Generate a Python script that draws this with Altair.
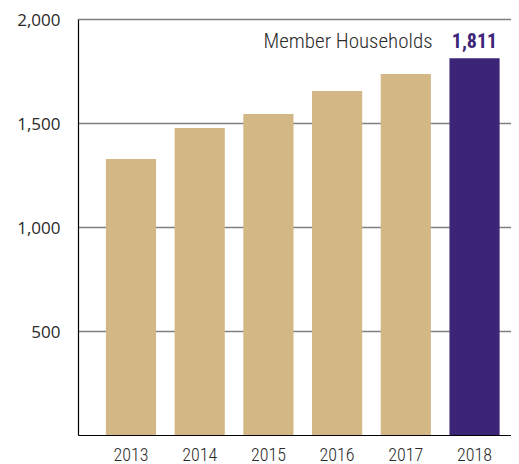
import altair as alt
import pandas as pd

years = ["2013", "2014", "2015", "2016", "2017", "2018"]
households = [1327, 1476, 1543, 1654, 1736, 1811]
bar_colors = ["#D3B784", "#D3B784", "#D3B784", "#D3B784", "#D3B784", "#3C2477"]
y_ticks = [500, 1000, 1500, 2000]
annotation_label = "Member Households"
highlight_label = "1,811"

df = pd.DataFrame({"year": years, "value": households, "color": bar_colors})
last = pd.DataFrame({"year": [years[-1]], "value": [households[-1]],
                     "label": [highlight_label], "note": [annotation_label]})

NARROW = "Liberation Sans Narrow, Arial Narrow, Roboto Condensed, Liberation Sans"

x_enc = alt.X("year:N", sort=years,
              scale=alt.Scale(paddingInner=0.27, paddingOuter=0.286, align=0.71),
              axis=alt.Axis(title=None, labelAngle=0, ticks=False, domain=True,
                            domainColor="#000000", domainWidth=1.2,
                            labelFont=NARROW, labelFontSize=18, labelFontWeight=300,
                            labelColor="#2a2a2a", labelPadding=11))
y_enc = alt.Y("value:Q", scale=alt.Scale(domain=[0, 2000], nice=False),
              axis=alt.Axis(title=None, values=y_ticks, format=",.0f", ticks=False,
                            domain=True, domainColor="#000000", domainWidth=1.2,
                            grid=True, gridColor="#808080", gridWidth=1.3,
                            labelFont="Open Sans", labelFontSize=17,
                            labelOffset=1.5,
                            labelColor="#2a2a2a", labelPadding=18))

bars = alt.Chart(df).mark_bar().encode(
    x=x_enc, y=y_enc,
    color=alt.Color("color:N", scale=None),
)

value_text = alt.Chart(last).mark_text(
    baseline="bottom", align="center", dy=-6, fontWeight="bold",
    font=NARROW, fontSize=20, color="#3C2477"
).encode(x=alt.X("year:N", sort=years), y="value:Q", text="label:N")

note_text = alt.Chart(last).mark_text(
    baseline="bottom", align="right", dx=-42, dy=-6,
    font=NARROW, fontSize=21, fontWeight=300, color="#2a2a2a"
).encode(x=alt.X("year:N", sort=years), y="value:Q", text="note:N")

chart = alt.layer(bars, note_text, value_text).properties(
    width=433, height=416,
    autosize=alt.AutoSizeParams(type="none"),
    padding={"left": 70, "top": 11, "right": 0, "bottom": 30},
).configure_view(stroke=None).configure(background="white")

chart.save("out.html", embed_options={"renderer": "svg", "actions": False})
